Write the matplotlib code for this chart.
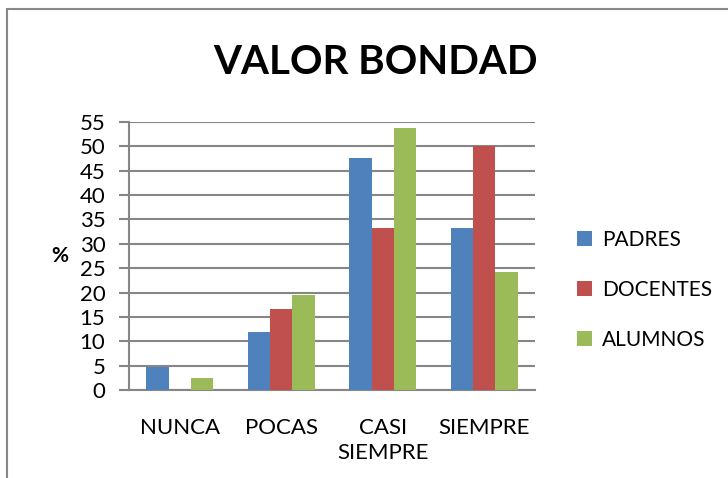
import numpy as np
import matplotlib.pyplot as plt
from matplotlib.patches import Rectangle

categories = ["NUNCA", "POCAS", "CASI\nSIEMPRE", "SIEMPRE"]
padres = [4.8, 11.9, 47.6, 33.3]
docentes = [0, 16.7, 33.3, 50.0]
alumnos = [2.4, 19.5, 53.7, 24.3]
series_names = ["PADRES", "DOCENTES", "ALUMNOS"]
colors = ["#4F81BD", "#C0504D", "#9BBB59"]

plt.rcParams['font.family'] = ['Lato', 'DejaVu Sans']

fig = plt.figure(figsize=(7.28, 4.78), dpi=100)
ax = fig.add_axes([129/728, 1-390/478, (535-129)/728, (390-122)/478])

# outer frame
fig.patches.append(Rectangle((7/728, -0.1), 1.0, 1.1 - 9/478, transform=fig.transFigure,
                             fill=False, edgecolor="#888888", linewidth=1.5))

x = np.arange(len(categories))
w = 0.22
for i, (vals, name) in enumerate(zip([padres, docentes, alumnos], series_names)):
    ax.bar(x + (i - 1) * w, vals, w, color=colors[i], label=name, zorder=3)

ax.set_xlim(-0.5, 3.5)
ax.set_ylim(0, 55)
ax.set_yticks(range(0, 56, 5))
ax.set_xticks(x)
ax.set_xticklabels(categories, fontsize=16, linespacing=1.3)
ax.tick_params(axis='y', labelsize=16, length=7, color="#868686", width=1.5, pad=10)
ax.tick_params(axis='x', length=0, pad=20)
ax.grid(axis='y', color="#868686", linewidth=1.5, zorder=0)
for s in ["top", "right"]:
    ax.spines[s].set_visible(False)
for s in ["left", "bottom"]:
    ax.spines[s].set_color("#868686")
    ax.spines[s].set_linewidth(1.5)

ax.set_ylabel("%", fontsize=15, fontweight="bold", rotation=0, labelpad=14, va="center")
fig.text(375/728, 1-62/478, "VALOR BONDAD", fontsize=29, fontweight="bold",
         ha="center", va="center")

fig.legend(loc="center left", bbox_to_anchor=(577/728, 1-290/478), frameon=False,
           fontsize=15, handlelength=0.73, handleheight=0.73, labelspacing=1.45,
           handletextpad=0.48, borderpad=0, borderaxespad=0)

fig.savefig("out.png", dpi=100)
